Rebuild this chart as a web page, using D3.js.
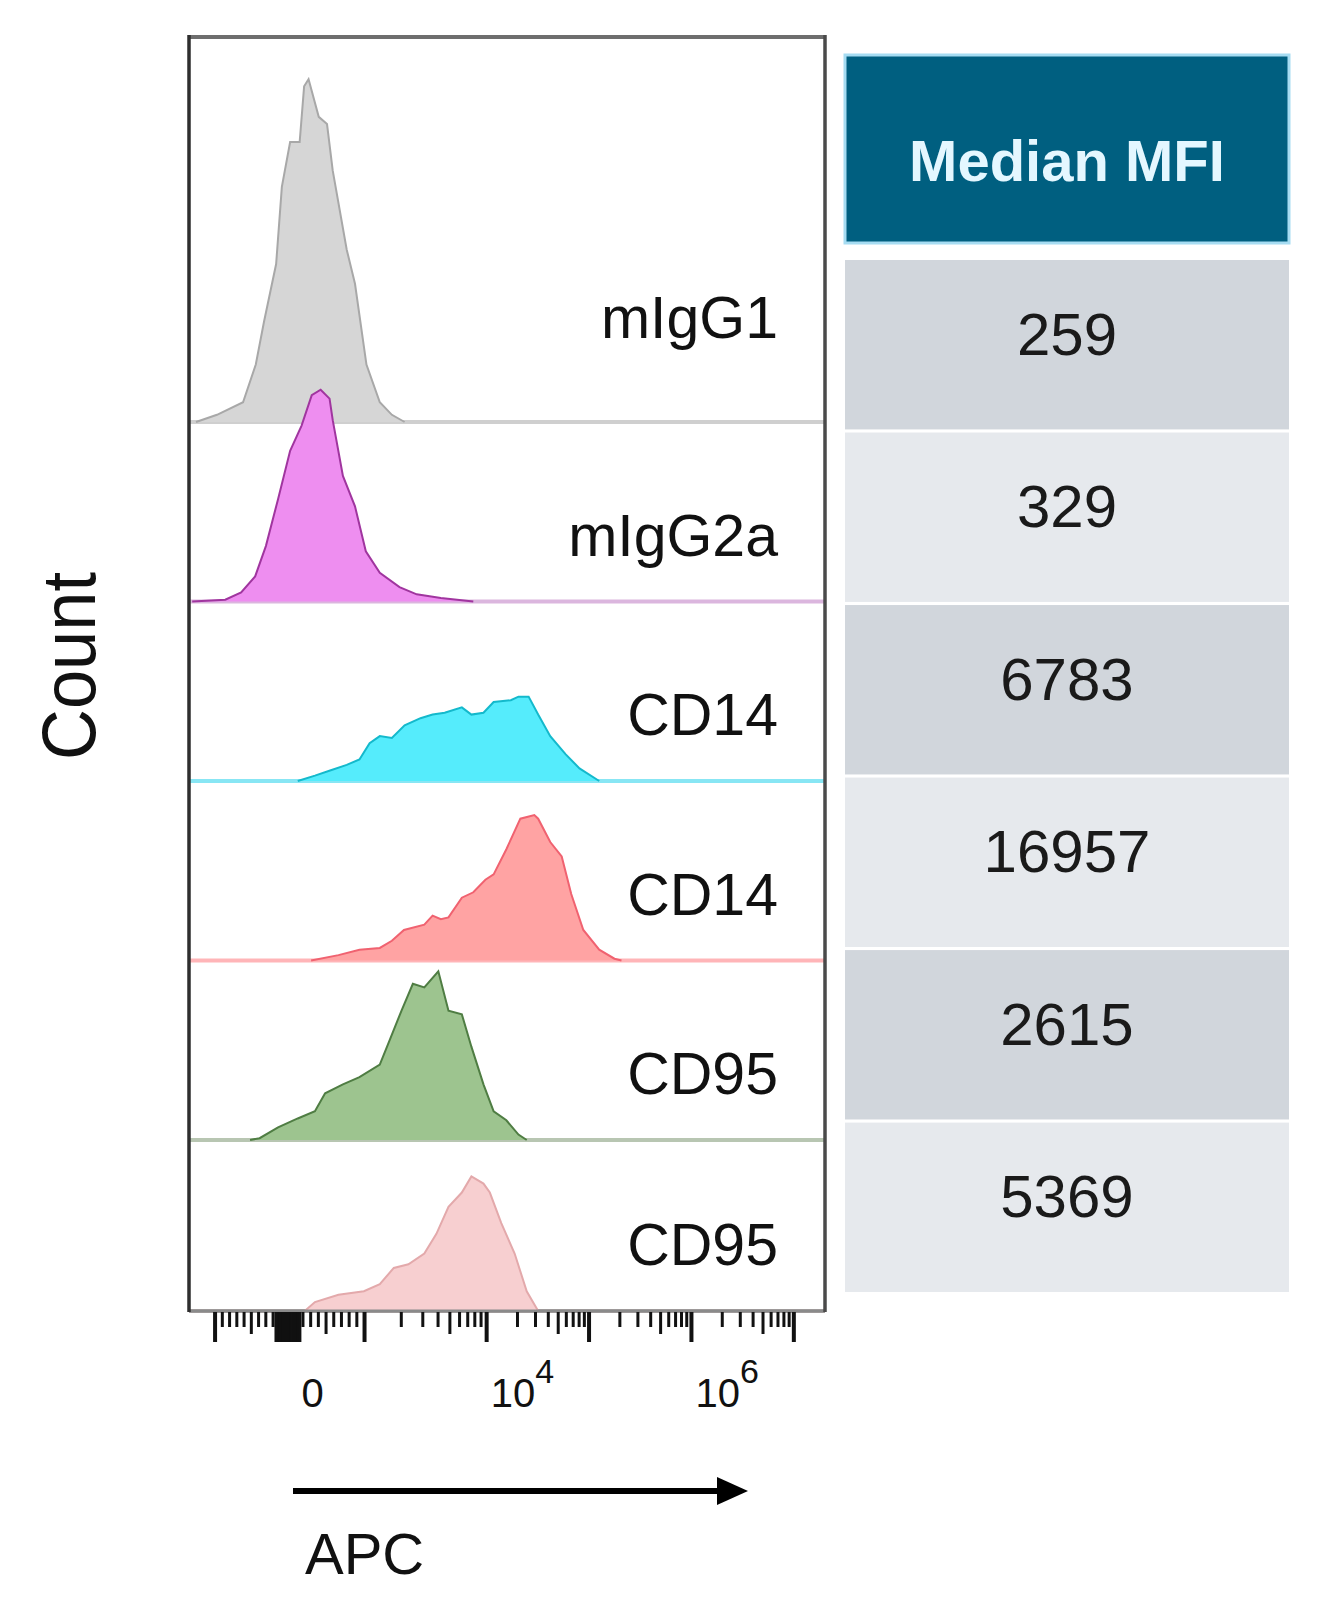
<!DOCTYPE html>
<html>
<head>
<meta charset="utf-8">
<script src="https://cdn.jsdelivr.net/npm/d3@7"></script>
<style>
body { margin: 0; background: #fff; }
svg text { font-family: Arial, "Liberation Sans", sans-serif; }
</style>
</head>
<body>
<script>
// canvas and layout magic numbers
var w = 1327;
var h = 1598;
var plotLeft = 189, plotRight = 825, plotTop = 37, plotBottom = 1311;
var firstBase = 422, fifthBase = 1140;
var panelStep = 179.5;
var tabLeft = 845, tabRight = 1289;
var headTop = 55, headBottom = 243;
var rowTop = 260, rowBottom = 1292;
var labelRight = 778;

// data
var samples = ["mIgG1", "mIgG2a", "CD14", "CD14", "CD95", "CD95"];
var medianMFI = [259, 329, 6783, 16957, 2615, 5369];

// histograms as [display channel 0-1000, count]
var histIgG1 = [[11,0],[44,4],[85,11],[105,32],[118,56],[137,88],[146,131],[159,156],[174,156],[181,187],[188,191],[204,170],[217,166],[226,140],[248,96],[261,77],[279,32],[300,11],[319,4],[339,0]];
var histIgG2a = [[5,0],[57,1],[82,5],[104,14],[121,31],[140,57],[159,84],[177,98],[193,115],[207,118],[221,113],[226,101],[242,70],[261,53],[278,28],[300,16],[331,8],[358,4],[396,2],[447,0]];
var histCD14a = [[171,0],[198,3],[223,6],[248,9],[268,12],[284,21],[300,25],[319,24],[339,31],[364,35],[383,37],[402,38],[429,41],[444,37],[463,38],[479,44],[506,45],[518,47],[534,47],[549,37],[568,25],[592,15],[614,7],[645,0]];
var histCD14b = [[192,0],[235,3],[268,6],[300,7],[319,11],[338,17],[370,20],[383,25],[396,23],[408,24],[429,35],[447,38],[466,45],[479,48],[499,62],[521,79],[543,81],[549,79],[568,66],[586,58],[601,37],[620,17],[645,6],[669,1],[680,0]];
var histCD95a = [[96,0],[111,1],[140,7],[171,12],[198,16],[214,26],[242,31],[268,35],[300,42],[316,56],[334,72],[352,87],[370,85],[392,94],[408,72],[429,70],[444,52],[463,31],[479,16],[499,11],[518,3],[531,0]];
var histCD95b = [[182,0],[198,5],[235,9],[275,11],[300,15],[322,24],[345,26],[370,32],[389,43],[408,58],[429,66],[444,75],[463,71],[473,66],[491,49],[512,32],[531,11],[549,0]];
var histograms = [histIgG1, histIgG2a, histCD14a, histCD14b, histCD95a, histCD95b];

var fills   = ["#d6d6d6", "#ee8ef0", "#55ecfc", "#ffa3a3", "#9dc48f", "#f7cfd0"];
var strokes = ["#a8a8a8", "#a0359f", "#14b9cc", "#f06270", "#4f7d43", "#e3a9ab"];
var bases   = ["#cfcfcf", "#dbb6de", "#88e6f4", "#ffb5b8", "#b8c6b2", "#b0a8a8"];

// biexponential axis calibration: decade units -> display channel
var decadeUnits = [-3, 0, 3, 4, 7];
var decadeChannels = [41, 155, 276, 468, 951];
var majorTicks = [-1000, 0, 1000, 1e4, 1e5, 1e6, 1e7];
var tickLabelValues = [0, 1e4, 1e6];
var tickLabelText = ["0", "10", "10"];
var tickLabelSup = ["", "4", "6"];

function biex(v) {
    if (Math.abs(v) <= 1000) return v * 3 / 1000;
    return (v < 0 ? -1 : 1) * Math.log10(Math.abs(v));
}

var x = d3.scaleLinear().domain([0, 1000]).range([plotLeft, plotRight]);
var calib = d3.scaleLinear().domain(decadeUnits).range(decadeChannels);
function apcX(v) { return x(calib(biex(v))); }

var yCount = d3.scaleLinear().domain([0, 100]).range([0, panelStep]);
var baseY = d3.scaleLinear().domain([0, 4]).range([firstBase, fifthBase]);
function baseline(i) { return Math.min(baseY(i), plotBottom); }

var svg = d3.select("body").append("svg")
    .attr("width", w)
    .attr("height", h);

// histograms
var area = d3.area()
    .x(function(d) { return x(d[0]); })
    .y0(0)
    .y1(function(d) { return -yCount(d[1]); });
var line = d3.line()
    .x(function(d) { return x(d[0]); })
    .y(function(d) { return -yCount(d[1]); });

histograms.forEach(function(hist, i) {
    var g = svg.append("g").attr("transform", "translate(0," + baseline(i) + ")");
    g.append("line")
        .attr("x1", x(0)).attr("x2", x(1000))
        .attr("y1", 0).attr("y2", 0)
        .attr("stroke", bases[i])
        .attr("stroke-width", 4);
    g.append("path")
        .datum(hist)
        .attr("d", area)
        .attr("fill", fills[i]);
    g.append("path")
        .datum(hist)
        .attr("d", line)
        .attr("fill", "none")
        .attr("stroke", strokes[i])
        .attr("stroke-width", 2);
});

// sample labels
svg.selectAll("text.sample")
    .data(samples)
    .enter()
    .append("text")
    .attr("class", "sample")
    .attr("x", labelRight)
    .attr("y", function(d, i) { return baseline(i) - (i == 0 ? 84 : 46); })
    .attr("text-anchor", "end")
    .attr("font-size", 59)
    .attr("fill", "#111")
    .text(function(d) { return d; });

// frame
svg.append("line").attr("x1", plotLeft).attr("x2", plotRight).attr("y1", plotTop).attr("y2", plotTop)
    .attr("stroke", "#6e6e6e").attr("stroke-width", 4);
svg.append("line").attr("x1", plotLeft).attr("x2", plotRight).attr("y1", plotBottom).attr("y2", plotBottom)
    .attr("stroke", "#8a8a8a").attr("stroke-width", 3);
svg.append("line").attr("x1", plotLeft).attr("x2", plotLeft).attr("y1", plotTop - 2).attr("y2", plotBottom + 1)
    .attr("stroke", "#2e2e2e").attr("stroke-width", 3.5);
svg.append("line").attr("x1", plotRight).attr("x2", plotRight).attr("y1", plotTop - 2).attr("y2", plotBottom + 1)
    .attr("stroke", "#4a4a4a").attr("stroke-width", 3.5);

// ticks
var ticks = [];
majorTicks.forEach(function(v) { ticks.push({ v: v, len: 30, sw: 4 }); });
d3.range(10, 170, 10).forEach(function(v) {
    ticks.push({ v: v, len: 30, sw: 3 });
    ticks.push({ v: -v, len: 30, sw: 3 });
});
d3.range(200, 1000, 100).forEach(function(v) {
    var len = v == 500 ? 22 : 15;
    ticks.push({ v: v, len: len, sw: 3 });
    ticks.push({ v: -v, len: len, sw: 3 });
});
[1e3, 1e4, 1e5, 1e6].forEach(function(dec) {
    d3.range(2, 10).forEach(function(k) {
        ticks.push({ v: k * dec, len: k == 5 ? 22 : 15, sw: 3 });
    });
});

svg.append("g").selectAll("line")
    .data(ticks)
    .enter()
    .append("line")
    .attr("x1", function(d) { return apcX(d.v); })
    .attr("x2", function(d) { return apcX(d.v); })
    .attr("y1", plotBottom + 1)
    .attr("y2", function(d) { return plotBottom + 1 + d.len; })
    .attr("stroke", "#111")
    .attr("stroke-width", function(d) { return d.sw; });

// tick labels
var tl = svg.append("g").selectAll("text")
    .data(tickLabelValues)
    .enter()
    .append("text")
    .attr("x", function(d) { return apcX(d) + (d == 0 ? 14 : 4); })
    .attr("y", 1407)
    .attr("font-size", 40)
    .attr("fill", "#111");
tl.append("tspan").text(function(d, i) { return tickLabelText[i]; });
tl.append("tspan")
    .attr("font-size", 34)
    .attr("dy", -24)
    .text(function(d, i) { return tickLabelSup[i]; });

// axis titles
svg.append("text")
    .attr("transform", "translate(95,666) rotate(-90)")
    .attr("text-anchor", "middle")
    .attr("font-size", 76)
    .attr("textLength", 188)
    .attr("lengthAdjust", "spacingAndGlyphs")
    .attr("fill", "#111")
    .text("Count");

svg.append("line")
    .attr("x1", 293).attr("x2", 722)
    .attr("y1", 1491).attr("y2", 1491)
    .attr("stroke", "#000").attr("stroke-width", 6);
svg.append("path")
    .attr("d", "M748,1491 L717,1477 L717,1505 Z")
    .attr("fill", "#000");
svg.append("text")
    .attr("x", 305).attr("y", 1574)
    .attr("font-size", 58)
    .attr("fill", "#111")
    .text("APC");

// median MFI table
svg.append("rect")
    .attr("x", tabLeft).attr("y", headTop)
    .attr("width", tabRight - tabLeft).attr("height", headBottom - headTop)
    .attr("fill", "#005f80")
    .attr("stroke", "#a6dcf2")
    .attr("stroke-width", 3);
svg.append("text")
    .attr("x", (tabLeft + tabRight) / 2)
    .attr("y", 181)
    .attr("text-anchor", "middle")
    .attr("font-size", 58)
    .attr("font-weight", "bold")
    .attr("fill", "#e4f7ff")
    .text("Median MFI");

var rows = d3.scaleBand()
    .domain(d3.range(medianMFI.length))
    .range([rowTop, rowBottom])
    .paddingInner(0.018);

svg.append("g").selectAll("rect")
    .data(medianMFI)
    .enter()
    .append("rect")
    .attr("x", tabLeft)
    .attr("y", function(d, i) { return rows(i); })
    .attr("width", tabRight - tabLeft)
    .attr("height", rows.bandwidth())
    .attr("fill", function(d, i) { return i % 2 == 0 ? "#d1d6dc" : "#e6e9ed"; });

svg.append("g").selectAll("text")
    .data(medianMFI)
    .enter()
    .append("text")
    .attr("x", (tabLeft + tabRight) / 2)
    .attr("y", function(d, i) { return rows(i) + rows.bandwidth() * 0.56; })
    .attr("text-anchor", "middle")
    .attr("font-size", 60)
    .attr("fill", "#1a1a1a")
    .text(function(d) { return d; });
</script>
</body>
</html>
